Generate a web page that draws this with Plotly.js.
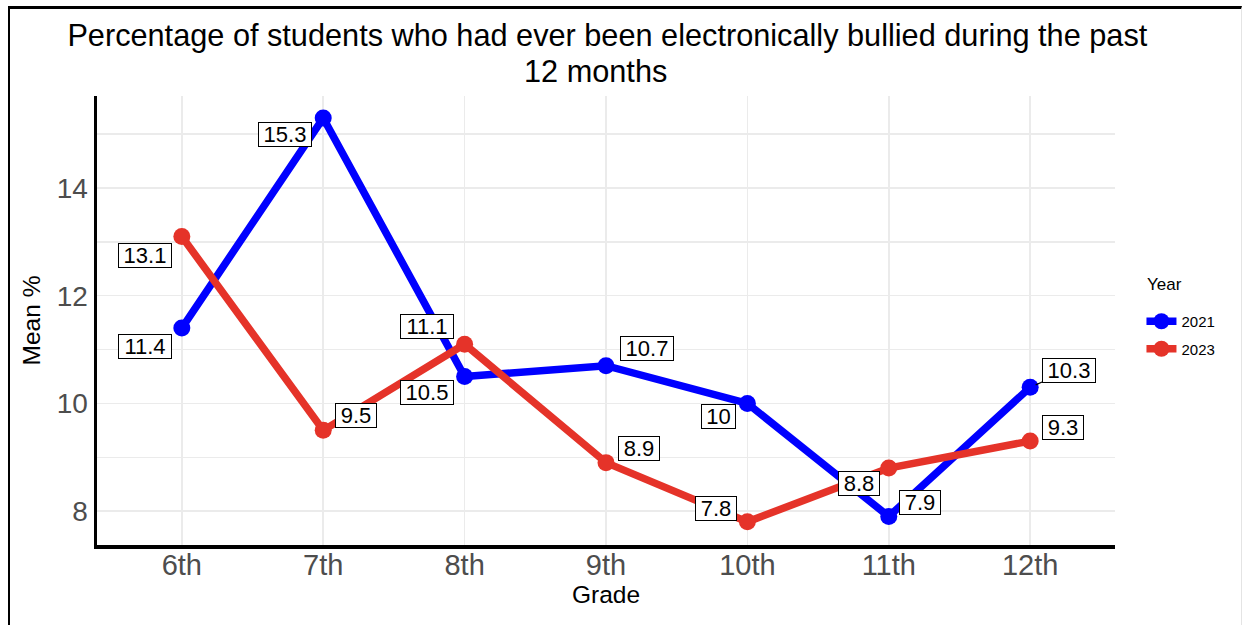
<!DOCTYPE html>
<html>
<head>
<meta charset="utf-8">
<script src="https://cdn.plot.ly/plotly-3.0.1.min.js"></script>
<style>
  html, body { margin: 0; padding: 0; background: #fff; }
  #wrap { position: relative; width: 1242px; height: 625px; }
  #chart { position: absolute; left: 0; top: 0; width: 1242px; height: 625px; }
  #frame { position: absolute; left: 8px; top: 6px; width: 1231px; height: 616px;
           border-left: 2px solid #000; border-top: 3px solid #000;
           border-right: 1px solid #e4e4e4; border-bottom: 1px solid #e4e4e4; pointer-events: none; }
</style>
</head>
<body>
<div id="wrap"><div id="chart"></div><div id="frame"></div></div>
<script>
const grades = ["6th", "7th", "8th", "9th", "10th", "11th", "12th"];
const years = ["2021", "2023"];
const values2021 = [11.4, 15.3, 10.5, 10.7, 10.0, 7.9, 10.3];
const values2023 = [13.1, 9.5, 11.1, 8.9, 7.8, 8.8, 9.3];
const labels2021 = ["11.4", "15.3", "10.5", "10.7", "10", "7.9", "10.3"];
const labels2023 = ["13.1", "9.5", "11.1", "8.9", "7.8", "8.8", "9.3"];
const titleLines = ["Percentage of students who had ever been electronically bullied during the past", "12 months"];

// label offsets (pixels) mimicking repelled labels
const off2021 = [[-37, 18], [-38, 16], [-38, 16], [41, -17], [-29, 13], [31, -14], [39, -17]];
const off2023 = [[-37, 19], [33, -15], [-38, -18], [33, -14], [-31, -13], [-30, 15], [33, -14]];
const lined2021 = [false, false, false, false, false, false, true];

const blue = "#0000ff";
const red = "#e53329";
const font = "Liberation Sans, Arial, sans-serif";
const labelSize = 22;

const traces = [
  { x: grades, y: values2021, name: years[0], legendgroup: "a", type: "scatter", mode: "lines+markers",
    line: { color: blue, width: 7.5 }, marker: { color: blue, size: 17 } },
  { x: grades, y: values2023, name: years[1], legendgroup: "b", type: "scatter", mode: "lines+markers",
    line: { color: red, width: 7.5 }, marker: { color: red, size: 17 } }
];

function textWidth(s) {
  let w = 0;
  for (const c of s) w += (c === "." ? 0.278 : 0.556);
  return w * labelSize;
}

const annotations = [];
function addLabels(vals, labs, offs, lined) {
  vals.forEach((v, i) => {
    annotations.push({
      x: grades[i], y: v, xref: "x", yref: "y",
      text: labs[i], showarrow: true,
      ax: offs[i][0], ay: offs[i][1],
      arrowhead: 0, arrowwidth: 1.2, standoff: 6,
      arrowcolor: (lined && lined[i]) ? "#000" : "rgba(0,0,0,0)",
      width: Math.round(textWidth(labs[i]) + 9), height: 23,
      font: { family: font, size: labelSize, color: "#000" },
      bgcolor: "#fff", bordercolor: "#000", borderwidth: 1, borderpad: 0
    });
  });
}
addLabels(values2021, labels2021, off2021, lined2021);
addLabels(values2023, labels2023, off2023, null);

// second title line and legend title
annotations.push({
  xref: "paper", yref: "paper", x: 0.4892, y: 1.0 + (96 - 91) / 449, xanchor: "center", yanchor: "bottom",
  text: titleLines[1], showarrow: false, font: { family: font, size: 30.7, color: "#000" }
});
annotations.push({
  xref: "paper", yref: "paper", x: (1145 - 97) / 1018, y: (545 - 273) / 449, xanchor: "left", yanchor: "top",
  text: "Year", showarrow: false, font: { family: font, size: 17, color: "#000" }
});

const layout = {
  width: 1242, height: 625,
  margin: { l: 97, r: 127, t: 96, b: 80 },
  paper_bgcolor: "rgba(0,0,0,0)", plot_bgcolor: "#fff",
  font: { family: font },
  title: { text: titleLines[0],
           x: 0.489, xanchor: "center", y: 1 - 25 / 625, yanchor: "top",
           font: { family: font, size: 30.7, color: "#000" } },
  xaxis: {
    type: "category", range: [-0.6, 6.6],
    showgrid: true, gridcolor: "#ebebeb", gridwidth: 1.5,
    showline: true, linecolor: "#000", linewidth: 3.5,
    ticks: "", ticklabelstandoff: -8, tickfont: { family: font, size: 29, color: "#4d4d4d" },
    title: { text: "Grade", standoff: 6, font: { family: font, size: 24.5, color: "#000" } },
    zeroline: false
  },
  yaxis: {
    range: [7.37, 15.71], dtick: 2, tick0: 8,
    showgrid: true, gridcolor: "#ebebeb", gridwidth: 1.5,
    minor: { dtick: 1, tick0: 8, showgrid: true, gridcolor: "#ebebeb", gridwidth: 1.5 },
    showline: true, linecolor: "#000", linewidth: 3.5,
    ticks: "", tickfont: { family: font, size: 28, color: "#4d4d4d" },
    title: { text: "Mean %", standoff: 10, font: { family: font, size: 24.5, color: "#000" } },
    zeroline: false
  },
  showlegend: true,
  legend: {
    x: 1.026, xanchor: "left", y: (545 - 305) / 449, yanchor: "top",
    font: { family: font, size: 15, color: "#000" },
    traceorder: "grouped", tracegroupgap: 5, itemwidth: 30
  },
  annotations: annotations
};

Plotly.newPlot("chart", traces, layout, { displayModeBar: false, staticPlot: true });
</script>
</body>
</html>
